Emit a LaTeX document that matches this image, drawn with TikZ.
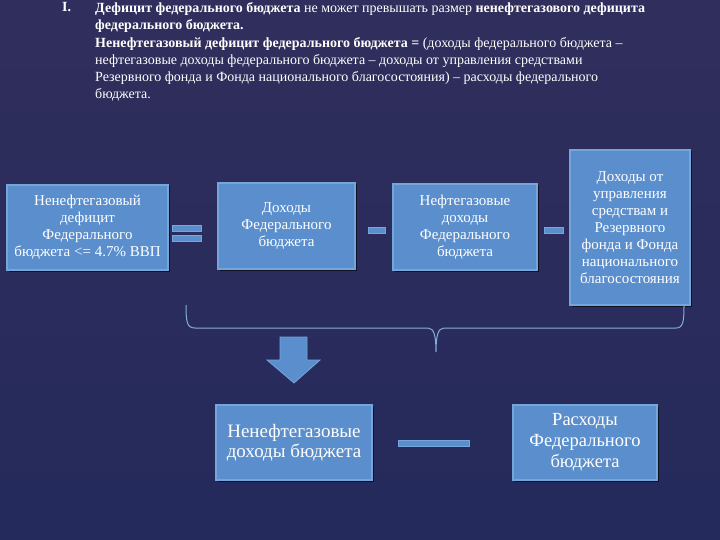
\documentclass[tikz,border=0pt]{standalone}
\usepackage{fontspec}
\setmainfont{Liberation Serif}
\usetikzlibrary{shadows}
\definecolor{bgtop}{HTML}{302E5C}
\definecolor{bgbot}{HTML}{242A5C}
\definecolor{boxfill}{HTML}{5A8ECC}
\definecolor{boxedge}{HTML}{74A6DC}
\definecolor{bracecol}{HTML}{86AEDD}
\tikzset{
  blockbox/.style={draw=boxedge, line width=1.5pt, fill=boxfill, text=white, align=center,
    inner sep=2pt, font=\fontsize{15}{17}\selectfont,
    drop shadow={shadow xshift=1.5pt, shadow yshift=-1.5pt, opacity=0.6, fill=black}},
  opbar/.style={draw=boxedge, fill=boxfill, line width=0.6pt, inner sep=0pt,
    minimum height=6pt, drop shadow={shadow xshift=1pt, shadow yshift=-1pt, opacity=0.5, fill=black}},
}
\begin{document}
\begin{tikzpicture}[x=1pt, y=-1pt]
	\shade[top color=bgtop, bottom color=bgbot] (0,0) rectangle (720,540);
	\useasboundingbox (0,0) rectangle (720,540);
	% heading text
	\node[anchor=north west, inner sep=0pt, text=white, font=\fontsize{14}{17.2}\selectfont\bfseries] (num) at (62,2.5) {I.};
	\node[anchor=north west, inner sep=0pt, align=left, text=white, font=\fontsize{14}{17.2}\selectfont] (intro) at (95,2.5)
		{\textbf{Дефицит федерального бюджета} не может превышать размер \textbf{ненефтегазового дефицита}\\
		 \textbf{федерального бюджета.}\\
		 \textbf{Ненефтегазовый дефицит федерального бюджета =} (доходы федерального бюджета --\\
		 нефтегазовые доходы федерального бюджета -- доходы от управления средствами\\
		 Резервного фонда и Фонда национального благосостояния) -- расходы федерального\\
		 бюджета.};
	% first row
	\node[blockbox, minimum width=161pt, minimum height=85pt] (deficit) at (87.5,227.5)
		{Ненефтегазовый\\дефицит\\Федерального\\бюджета <= 4.7\% ВВП};
	\node[blockbox, minimum width=137pt, minimum height=86pt] (income) at (286.5,226)
		{Доходы\\Федерального\\бюджета};
	\node[blockbox, minimum width=144pt, minimum height=86pt] (oilgas) at (465,227)
		{Нефтегазовые\\доходы\\Федерального\\бюджета};
	\node[blockbox, minimum width=120pt, minimum height=155pt] (funds) at (630,227.5)
		{Доходы от\\управления\\средствам и\\Резервного\\фонда и Фонда\\национального\\благосостояния};
	\node[opbar, minimum width=29pt] (eqtop) at (186.5,228) {};
	\node[opbar, minimum width=29pt] (eqbot) at (186.5,238) {};
	\node[opbar, minimum width=17pt] (minusa) at (376.5,230) {};
	\node[opbar, minimum width=19pt] (minusb) at (553.5,230) {};
	% brace under the row
	\draw[bracecol, line width=1pt] (186,305) .. controls (186,322) and (187,328) .. (195,328) -- (428,328)
		.. controls (434,328) and (436,336) .. (436,352) .. controls (436,336) and (438,328) .. (444,328)
		-- (676,328) .. controls (683,328) and (684,322) .. (684,305);
	% block arrow
	\filldraw[fill=boxfill, draw=boxedge, line width=0.8pt] (280,337) -- (307,337) -- (307,360) -- (320,360)
		-- (294,383) -- (267,360) -- (280,360) -- cycle;
	% second row
	\node[blockbox, minimum width=156pt, minimum height=75pt, font=\fontsize{19}{20}\selectfont] (nonoil) at (294,442.5)
		{Ненефтегазовые\\доходы бюджета};
	\node[blockbox, minimum width=144pt, minimum height=75pt, font=\fontsize{18.5}{21}\selectfont] (spend) at (585,442.5)
		{Расходы\\Федерального\\бюджета};
	\node[opbar, minimum width=71pt] (minusc) at (433.5,443) {};
\end{tikzpicture}
\end{document}
